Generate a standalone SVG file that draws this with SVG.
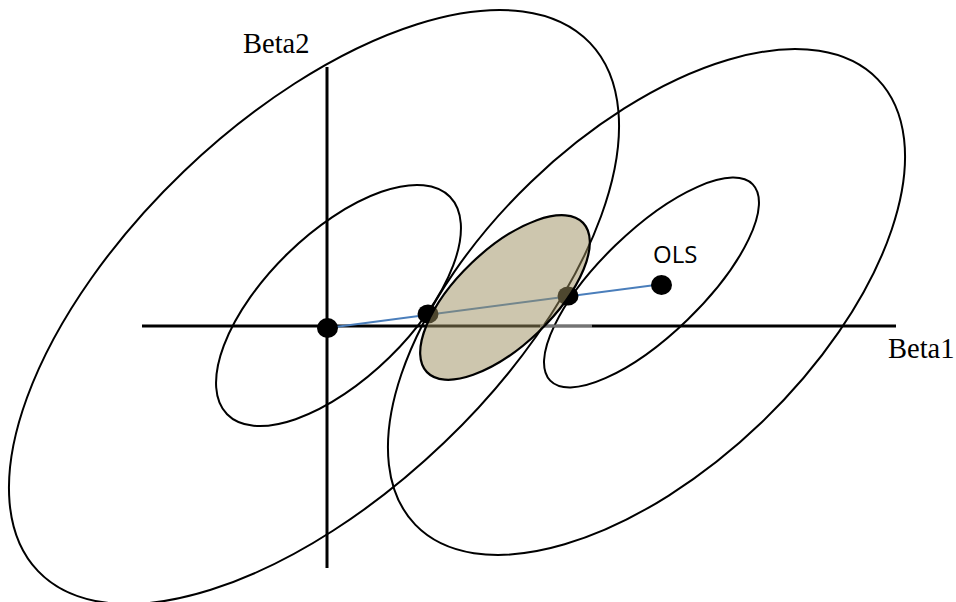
<svg xmlns="http://www.w3.org/2000/svg" width="956" height="602" viewBox="0 0 956 602">
<style>
.c{fill:none;stroke:#000;stroke-width:2}
.ax{stroke:#000;stroke-width:3}
.dot{fill:#000}
.lbl{font-family:"Liberation Serif","Times New Roman",serif;font-size:28.5px;fill:#000}
.ols{font-family:"Open Sans","Noto Sans",sans-serif;font-size:24px;fill:#000}
</style>
<rect width="956" height="602" fill="#fff"/>
<g id="contours">
<ellipse id="big-left" class="c" cx="314" cy="307" rx="382" ry="188" transform="rotate(-43.75 314 307)"/>
<ellipse id="small-left" class="c" cx="338.5" cy="305.5" rx="155.7" ry="72.7" transform="rotate(-44.3 338.5 305.5)"/>
<ellipse id="big-right" class="c" cx="646.5" cy="302" rx="321" ry="166.6" transform="rotate(-43.9 646.5 302)"/>
<ellipse id="small-right" class="c" cx="651.5" cy="282.5" rx="141" ry="51.8" transform="rotate(-44.1 651.5 282.5)"/>
</g>
<g id="axes">
<line class="ax" x1="142" y1="326" x2="896" y2="326"/>
<line class="ax" x1="327" y1="67" x2="327" y2="568"/>
</g>
<g id="connectors">
<line x1="327.5" y1="328" x2="663" y2="284" stroke="#4a7ebb" stroke-width="2"/>
</g>
<g id="origin"><ellipse class="dot" cx="327.5" cy="328" rx="10.5" ry="10"/></g>
<g id="p1"><ellipse class="dot" cx="428" cy="314" rx="10.5" ry="9.5"/></g>
<g id="p2"><ellipse class="dot" cx="568" cy="296" rx="10.5" ry="9.5"/></g>
<g id="ols"><ellipse class="dot" cx="661.5" cy="285" rx="10.5" ry="10"/>
<text class="ols" x="653" y="263">OLS</text></g>
<g id="region">
<line x1="540" y1="326" x2="592" y2="326" stroke="#fff" stroke-opacity="0.45" stroke-width="3"/>
<ellipse cx="505" cy="297.5" rx="108" ry="48" transform="rotate(-43.7 505 297.5)" fill="#9b8d5d" fill-opacity="0.5" stroke="#000" stroke-width="2.2"/>
</g>
<g id="labels">
<text class="lbl" x="243" y="53">Beta2</text>
<text class="lbl" x="888" y="358">Beta1</text>
</g>
</svg>
